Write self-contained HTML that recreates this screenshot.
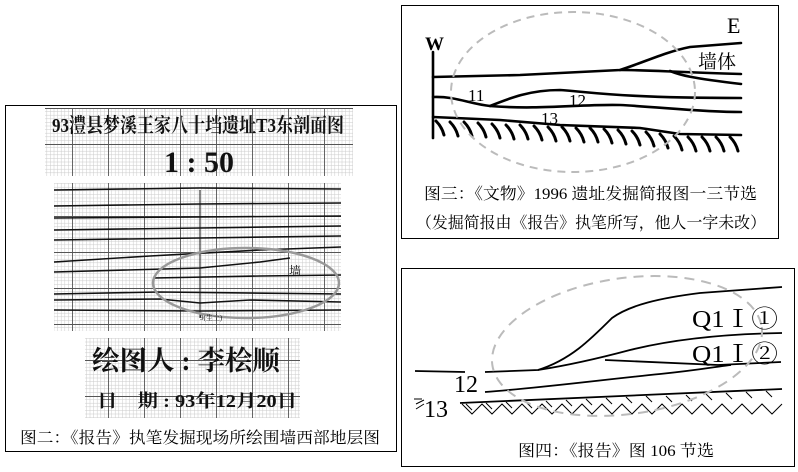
<!DOCTYPE html>
<html><head><meta charset="utf-8"><style>
body{margin:0;background:#fff;}
svg{display:block;}
text{font-family:"Liberation Serif","Noto Serif CJK SC","Noto Sans CJK SC",serif;}
</style></head><body>
<svg width="798" height="472" viewBox="0 0 798 472" xmlns="http://www.w3.org/2000/svg">
<defs>
<pattern id="g" width="36" height="36" patternUnits="userSpaceOnUse">
<rect width="36" height="36" fill="#fff"/>
<path d="M0 3.6H36M0 7.2H36M0 10.8H36M0 14.4H36M0 18H36M0 21.6H36M0 25.2H36M0 28.8H36M0 32.4H36M3.6 0V36M7.2 0V36M10.8 0V36M14.4 0V36M18 0V36M21.6 0V36M25.2 0V36M28.8 0V36M32.4 0V36" stroke="#ccc" stroke-width="0.5"/>
<path d="M0 0.5H36M0.5 0V36" stroke="#555" stroke-width="0.9"/>
</pattern>
</defs>
<!-- LEFT PANEL -->
<rect x="5.5" y="105.5" width="391" height="346" fill="#fff" stroke="#000"/>
<rect x="45" y="108" width="308" height="68" fill="url(#g)"/>
<text x="52" y="132" font-size="20" font-weight="bold" textLength="292" lengthAdjust="spacingAndGlyphs" font-family="Liberation Sans,Noto Sans CJK SC,sans-serif" fill="#111">93澧县梦溪王家八十垱遗址T3东剖面图</text>
<text x="199" y="172" font-size="30" font-weight="bold" text-anchor="middle" font-family="Liberation Sans,sans-serif" fill="#111">1 : 50</text>
<rect x="54" y="183" width="287" height="148" fill="url(#g)"/>
<g stroke="#111" stroke-width="1.6" fill="none">
<path d="M54 190 L200 188 L341 189"/>
<path d="M54 206 L200 204 L341 203"/>
<path d="M54 218 L200 217 L341 216"/>
<path d="M54 230 L200 228 L341 226"/>
<path d="M54 240 L200 238 L341 236"/>
<path d="M54 262 L150 256 L260 250 L341 247"/>
<path d="M54 272 L200 268 L260 262 L290 258"/>
<path d="M154 278 L260 276 L341 275"/>
<path d="M54 294 L160 292 L341 294"/>
<path d="M54 300 L160 299 L200 303 L250 300 L341 302"/>
<path d="M54 310 L200 311 L341 310"/>
<path d="M200 190 L200 318" stroke-width="1"/>
</g>
<ellipse cx="246" cy="283" rx="93" ry="35" fill="none" stroke="#999" stroke-width="2.5"/>
<text x="289" y="275" font-size="12" fill="#111">墙</text>
<text x="200" y="320" font-size="7" fill="#111">9(生土)</text>
<rect x="85" y="338" width="215" height="80" fill="url(#g)"/>
<text x="92" y="370" font-size="27" font-weight="bold" textLength="188" lengthAdjust="spacingAndGlyphs" fill="#111">绘图人 : 李桧顺</text>
<text x="97" y="407" font-size="18" font-weight="bold" textLength="200" lengthAdjust="spacingAndGlyphs" fill="#111">日　期 : 93年12月20日</text>
<text x="20" y="443" font-size="16" textLength="360" lengthAdjust="spacingAndGlyphs" fill="#000" font-family="Liberation Sans,Noto Sans CJK SC,sans-serif">图二：《报告》执笔发掘现场所绘围墙西部地层图</text>

<!-- RIGHT TOP -->
<rect x="401.5" y="5.5" width="377" height="233" fill="#fff" stroke="#000"/>
<text x="425" y="50" font-size="19" font-weight="bold" font-family="DejaVu Sans,Liberation Sans,sans-serif">W</text>
<text x="727" y="33" font-size="22" font-family="Liberation Sans,sans-serif">E</text>
<g stroke="#000" stroke-width="2.6" fill="none" stroke-linecap="round">
<path d="M433 52 V138"/>
<path d="M433 77 L520 75 L620 70 C645 62 665 52 690 47 L741 43"/>
<path d="M620 70 C650 70 670 72 741 74"/>
<path d="M670 71 C680 75 690 78 741 84"/>
<path d="M433 97 C455 96 470 104 490 106 C510 98 530 90 560 90 C590 92 620 98 741 98"/>
<path d="M490 106 C540 110 580 104 620 105 C660 107 700 112 741 112"/>
<path d="M433 117 L500 120 L560 125 L640 128 L680 134 L741 135"/>
</g>
<g stroke="#000" stroke-width="3" stroke-linecap="round" fill="none">
<path d="M436 121q6 6 8 14M450 122q6 6 8 14M464 122q6 6 8 14M478 123q6 6 8 14M492 124q6 6 8 14M506 125q6 6 8 14M520 125q6 6 8 14M534 126q6 6 8 14M548 127q6 6 8 14M562 127q6 6 8 14M576 128q6 6 8 14M590 128q6 6 8 14M604 129q6 6 8 14M618 130q6 6 8 14M632 131q6 6 8 14M646 132q6 6 8 14M660 134q6 6 8 14M674 136q6 6 8 14M688 137q6 6 8 14M702 137q6 6 8 14M716 137q6 6 8 14M730 137q6 6 8 14"/>
</g>
<ellipse cx="573" cy="92" rx="122" ry="80" fill="none" stroke="#bbb" stroke-width="2" stroke-dasharray="8,6"/>
<text x="468" y="101" font-size="17" font-family="Liberation Sans,sans-serif">11</text>
<text x="569" y="106" font-size="17" font-family="Liberation Sans,sans-serif">12</text>
<text x="541" y="124" font-size="17" font-family="Liberation Sans,sans-serif">13</text>
<text x="698" y="68" font-size="19" font-family="Liberation Sans,Noto Sans CJK SC,sans-serif">墙体</text>
<text x="424" y="199" font-size="16" textLength="333" lengthAdjust="spacingAndGlyphs">图三：《文物》1996 遗址发掘简报图一三节选</text>
<text x="416" y="228" font-size="16" textLength="350" lengthAdjust="spacingAndGlyphs">（发掘简报由《报告》执笔所写，他人一字未改）</text>

<!-- RIGHT BOTTOM -->
<rect x="401.5" y="268.5" width="393" height="198" fill="#fff" stroke="#000"/>
<g stroke="#000" stroke-width="1.8" fill="none">
<path d="M415 371 L465 372"/>
<path d="M485 372 L538 370 C570 360 590 340 612 318 C630 305 660 298 700 293 L782 287"/>
<path d="M538 370 C570 365 600 358 630 350 C670 340 720 334 782 333"/>
<path d="M605 360 C650 362 690 364 718 365 L781 362"/>
<path d="M485 392 C540 388 600 380 660 374 C700 370 720 366 731 365"/>
<path d="M460 403 L782 389"/>
</g>
<g stroke="#000" stroke-width="1" fill="none">
<path d="M462 404l10 10l10-10l10 10l10-10l10 10l10-10l10 10l10-10l10 10l10-10l10 10l10-10l10 10l10-10l10 10l10-10l10 10l10-10l10 10l10-10l10 10l10-10l10 10l10-10l10 10l10-10l10 10l10-10l10 10l10-10l10 10l10-10"/>
<path d="M466 404l6 6M486 403l6 6M506 402l6 6M526 402l6 6M546 401l6 6M566 400l6 6M586 399l6 6M606 398l6 6M626 397l6 6M646 396l6 6M666 396l6 6M686 395l6 6M706 394l6 6M726 393l6 6M746 392l6 6M766 391l6 6"/>
<path d="M414 399h8M416 404l8-4M416 409l8-5"/>
</g>
<ellipse cx="627" cy="346" rx="136" ry="68" fill="none" stroke="#bbb" stroke-width="2" stroke-dasharray="10,7" transform="rotate(-8 627 346)"/>
<text x="454" y="392" font-size="24">12</text>
<text x="424" y="417" font-size="24">13</text>
<text x="692" y="327" font-size="24" textLength="86" lengthAdjust="spacingAndGlyphs">Q1Ⅰ①</text>
<text x="692" y="362" font-size="24" textLength="86" lengthAdjust="spacingAndGlyphs">Q1Ⅰ②</text>
<text x="518" y="456" font-size="16" textLength="196" lengthAdjust="spacingAndGlyphs">图四：《报告》图 106 节选</text>
</svg>
</body></html>
